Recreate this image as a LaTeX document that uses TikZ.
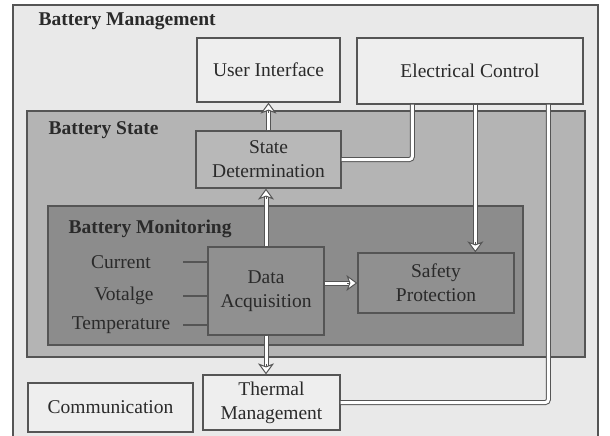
\documentclass[tikz,border=0pt]{standalone}
\usepackage{fontspec}
\setmainfont{Liberation Serif}
\usetikzlibrary{arrows.meta,calc}
\definecolor{bordergray}{HTML}{555555}
\definecolor{txtgray}{HTML}{2A2A2A}
\definecolor{outerfill}{HTML}{E9E9E9}
\definecolor{statefill}{HTML}{B4B4B4}
\definecolor{monfill}{HTML}{8C8C8C}
\definecolor{lightbox}{HTML}{EEEEEE}
\definecolor{sdfill}{HTML}{B8B8B8}
\definecolor{darkbox}{HTML}{909090}
\tikzset{
  every node/.style={text=txtgray, font=\fontsize{19.5}{24}\selectfont},
  area/.style={draw=bordergray, line width=1.3pt},
  blk/.style={draw=bordergray, line width=1.3pt, align=center, inner sep=0pt},
  ttl/.style={anchor=base west, font=\fontsize{19.5}{24}\selectfont\bfseries},
  dbl/.style={draw=bordergray, line width=1pt, double=white, double distance=3pt, rounded corners=3pt},
  headtip/.style={draw=bordergray, line width=1pt, -{Stealth[length=11pt,width=16pt,inset=3pt,fill=white]}},
  tick/.style={draw=bordergray, line width=1.2pt},
}
\newcommand\hollowarrow[2]{%
  \draw[dbl, shorten >=7pt] (#1) -- (#2);
  \draw[headtip] ($(#2)!10pt!(#1)$) -- (#2);
}
\begin{document}
\begin{tikzpicture}[x=1pt,y=-1pt]
\useasboundingbox (0,0) rectangle (610,436);
\fill[white] (0,0) rectangle (610,436);
% outer area
\draw[area, fill=outerfill] (13,440) -- (13,5) -- (598,5) -- (598,440);
\node[ttl] (tBM) at (35,26) {Battery Management};
% battery state area
\draw[area, fill=statefill] (27,111) rectangle (585,357);
\node[ttl] (tBS) at (45,134) {Battery State};
% battery monitoring area
\draw[area, fill=monfill] (48,206) rectangle (523,345);
\node[ttl] (tBMo) at (65,233) {Battery Monitoring};
% blocks
\node[blk, fill=lightbox, minimum width=143pt, minimum height=64pt] (ui) at (268.5,70) {User Interface};
\node[blk, fill=lightbox, minimum width=226pt, minimum height=66pt] (ec) at (470,71) {Electrical Control};
\node[blk, fill=sdfill, minimum width=145pt, minimum height=57pt] (sd) at (268.5,159.5) {State\\Determination};
\node[blk, fill=darkbox, minimum width=116pt, minimum height=88pt] (da) at (266,291) {Data\\Acquisition};
\node[blk, fill=darkbox, minimum width=156pt, minimum height=60pt] (sp) at (436,283) {Safety\\Protection};
\node[blk, fill=lightbox, minimum width=165pt, minimum height=49pt] (cm) at (110.5,407.5) {Communication};
\node[blk, fill=lightbox, minimum width=137pt, minimum height=55pt] (tm) at (271.5,402.5) {Thermal\\Management};
% sensor labels
\node (cur) at (121,262) {Current};
\node (vol) at (124,296) {Votalge};
\node (tem) at (121,325) {Temperature};
\coordinate (d1) at (183,262);
\coordinate (d2) at (183,296);
\coordinate (d3) at (183,325);
\draw[tick] (d1) -- (d1 -| da.west);
\draw[tick] (d2) -- (d2 -| da.west);
\draw[tick] (d3) -- (d3 -| da.west);
% connector end points
\coordinate (ecA) at ($(ec.south west)+(56,0)$);
\coordinate (ecB) at ($(ec.south west)+(119,0)$);
\coordinate (ecC) at ($(ec.south west)+(192,0)$);
\coordinate (spTop) at (ecB |- sp.north);
\coordinate (sdBot) at (da.north |- sd.south);
\coordinate (daRight) at (da.east |- sp.west);
\coordinate (tmTop) at (da.south |- tm.north);
% connectors
\draw[dbl] (ecA) |- (sd.east);
\draw[dbl] (ecC) |- (tm.east);
\hollowarrow{ecB}{spTop}
\hollowarrow{sd.north}{ui.south}
\hollowarrow{da.north}{sdBot}
\hollowarrow{daRight}{sp.west}
\hollowarrow{da.south}{tmTop}
\end{tikzpicture}
\end{document}
